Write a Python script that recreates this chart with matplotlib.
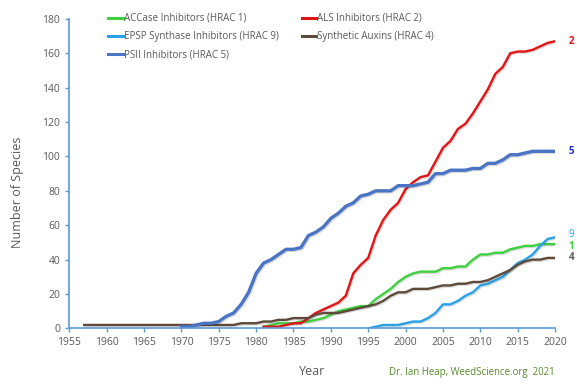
import numpy as np
import matplotlib
matplotlib.use("Agg")
from matplotlib import pyplot as plt
import matplotlib.patheffects as pe

plt.rcParams['font.family'] = ['Open Sans', 'DejaVu Sans']

# ACCase Inhibitors (HRAC 1)
accase_years = list(range(1981, 2021))
accase = [1, 2, 3, 3, 3, 4, 4, 5, 6, 8, 10, 11, 12, 13, 13, 17, 20, 23, 27, 30,
          32, 33, 33, 33, 35, 35, 36, 36, 40, 43, 43, 44, 44, 46, 47, 48, 48, 49, 49, 49]

# ALS Inhibitors (HRAC 2)
als_years = list(range(1981, 2021))
als = [1, 1, 1, 2, 3, 3, 6, 9, 11, 13, 15, 19, 32, 37, 41, 54, 63, 69, 73, 81,
       85, 88, 89, 97, 105, 109, 116, 119, 125, 132, 139, 148, 152, 160, 161, 161, 162, 164, 166, 167]

# EPSP Synthase Inhibitors (HRAC 9)
epsp_years = list(range(1995, 2021))
epsp = [0, 1, 2, 2, 2, 3, 4, 4, 6, 9, 14, 14, 16, 19, 21, 25, 26, 28, 30, 34,
        38, 40, 43, 48, 52, 53]

# Synthetic Auxins (HRAC 4)
auxin_years = list(range(1957, 2021))
auxin = [2] * 21 + [3, 3, 3, 4, 4, 5, 5, 6, 6, 6, 8, 9, 9, 9, 10, 11, 12, 13, 14, 16,
                    19, 21, 21, 23, 23, 23, 24, 25, 25, 26, 26, 27, 27, 28, 30, 32, 34, 37, 39, 40,
                    40, 41, 41]

# PSII Inhibitors (HRAC 5)
psii_years = list(range(1970, 2021))
psii = [1, 1, 2, 3, 3, 4, 7, 9, 14, 21, 32, 38, 40, 43, 46, 46, 47, 54, 56, 59,
        64, 67, 71, 73, 77, 78, 80, 80, 80, 83, 83, 83, 84, 85, 90, 90, 92, 92, 92, 93,
        93, 96, 96, 98, 101, 101, 102, 103, 103, 103, 103]

c_green = '#3dd13d'
c_red = '#e01414'
c_lblue = '#27a2e8'
c_brown = '#5e4a3a'
c_blue = '#4a74c4'
axis_col = '#5b9bd5'
text_col = '#595959'

fig = plt.figure(figsize=(5.77, 3.85), dpi=100)
ax = fig.add_axes([0.120, 0.147, 0.842, 0.804])

shadow = [pe.SimpleLineShadow(offset=(0.8, -0.8), alpha=0.15), pe.Normal()]
l1, = ax.plot(accase_years, accase, color=c_green, lw=1.7, label='ACCase Inhibitors (HRAC 1)', path_effects=shadow)
l2, = ax.plot(als_years, als, color=c_red, lw=1.7, label='ALS Inhibitors (HRAC 2)', path_effects=shadow)
l3, = ax.plot(epsp_years, epsp, color=c_lblue, lw=1.7, label='EPSP Synthase Inhibitors (HRAC 9)', path_effects=shadow)
l4, = ax.plot(auxin_years, auxin, color=c_brown, lw=1.7, label='Synthetic Auxins (HRAC 4)', path_effects=shadow)
l5, = ax.plot(psii_years, psii, color=c_blue, lw=2.4, label='PSII Inhibitors (HRAC 5)', path_effects=shadow)

ax.set_xlim(1955, 2020)
ax.set_ylim(0, 180)
ax.set_xticks(range(1955, 2021, 5))
ax.set_yticks(range(0, 181, 20))
ax.spines['top'].set_visible(False)
ax.spines['right'].set_visible(False)
ax.spines['left'].set_color(axis_col)
ax.spines['bottom'].set_color(axis_col)
ax.spines['left'].set_linewidth(1.2)
ax.spines['bottom'].set_linewidth(1.2)
ax.tick_params(colors=axis_col, labelcolor=text_col, labelsize=7.5, length=3, width=1)
ax.set_xlabel('Year', fontsize=9, color=text_col, labelpad=12)
ax.set_ylabel('Number of Species', fontsize=9, color=text_col)
ax.yaxis.set_label_coords(-0.094, 0.44)

# end-of-line labels
ends = [(als[-1], '2', c_red, 'bold'), (psii[-1], '5', '#2030c0', 'bold'),
        (epsp[-1] + 1.5, '9', c_lblue, 'normal'), (accase[-1] - 1.5, '1', c_green, 'bold'),
        (auxin[-1], '4', text_col, 'bold')]
for yv, txt, col, wt in ends:
    ax.text(2021.8, yv, txt, color=col, fontsize=7, fontweight=wt, va='center', ha='left',
            clip_on=False)

leg = fig.legend(handles=[l1, l3, l5, l2, l4], ncol=2, loc='upper left',
                 bbox_to_anchor=(108 / 577, 1 - 13 / 385), frameon=False, fontsize=7,
                 handlelength=1.5, handletextpad=0.1, columnspacing=2.4, labelspacing=0.75,
                 borderpad=0, borderaxespad=0)
for t in leg.get_texts():
    t.set_color(text_col)
for h in leg.legend_handles:
    h.set_linewidth(2.2)
    h.set_path_effects([])

fig.text(555 / 577, 1 - 372 / 385, 'Dr. Ian Heap, WeedScience.org  2021', color='#5a8a30',
         fontsize=6.9, ha='right', va='center')

fig.savefig('out.png', dpi=100)
